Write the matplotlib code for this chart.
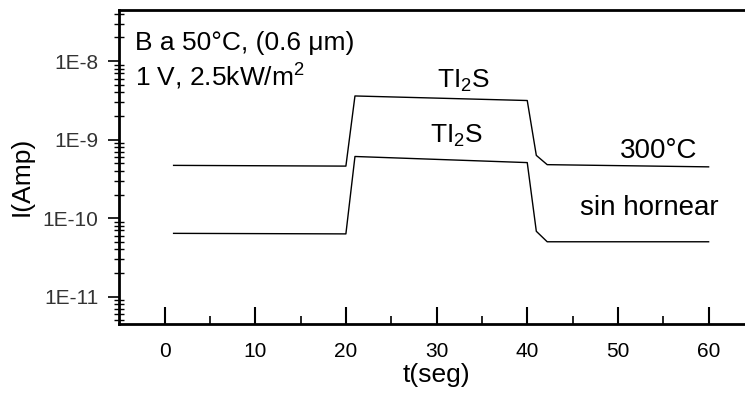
import numpy as np
import matplotlib
matplotlib.use("Agg")
import matplotlib.pyplot as plt
from matplotlib.ticker import LogLocator, FixedLocator, NullFormatter

plt.rcParams['font.family'] = ['Liberation Sans', 'DejaVu Sans']
plt.rcParams['mathtext.fontset'] = 'custom'
plt.rcParams['mathtext.rm'] = 'Liberation Sans'

# datos
t_300 = [1, 20, 21, 40, 41, 42.2, 60]
i_300 = [4.7e-10, 4.6e-10, 3.6e-9, 3.15e-9, 6.3e-10, 4.8e-10, 4.5e-10]

t_sin = [1, 20, 21, 40, 41, 42.2, 60]
i_sin = [6.4e-11, 6.3e-11, 6.1e-10, 5.1e-10, 6.8e-11, 5.0e-11, 5.0e-11]

x_ticks = [0, 10, 20, 30, 40, 50, 60]
y_ticks = [1e-11, 1e-10, 1e-9, 1e-8]
y_tick_labels = ['1E-11', '1E-10', '1E-9', '1E-8']

fig = plt.figure(figsize=(7.45, 3.94), dpi=100)
ax = fig.add_axes([0.16, 0.178, 0.852, 0.797])

ax.plot(t_300, i_300, color='black', lw=1.0)
ax.plot(t_sin, i_sin, color='black', lw=1.0)

ax.set_yscale('log')
ax.set_xlim(-5, 65)
ax.set_ylim(4.5e-12, 4.5e-8)

ax.set_xticks(x_ticks)
ax.xaxis.set_minor_locator(FixedLocator([5, 15, 25, 35, 45, 55]))
ax.set_yticks(y_ticks)
ax.set_yticklabels(y_tick_labels)
ax.yaxis.set_minor_locator(LogLocator(base=10, subs=np.arange(2, 10)))
ax.yaxis.set_minor_formatter(NullFormatter())

ax.tick_params(axis='x', which='major', direction='in', length=12, width=1.5, labelsize=15, pad=13)
ax.tick_params(axis='x', which='minor', direction='in', length=6, width=1.2)
ax.tick_params(axis='y', which='major', direction='out', length=8, width=1.2, labelsize=15, pad=7, labelcolor='#333333')
ax.tick_params(axis='y', which='minor', direction='inout', length=7, width=1.0)
ax.tick_params(top=False, right=False)

for s in ax.spines.values():
    s.set_linewidth(2)
ax.spines['right'].set_visible(False)

ax.set_xlabel('t(seg)', fontsize=19, va='top')
ax.xaxis.set_label_coords(0.50, -0.125)
ax.set_ylabel('I(Amp)', fontsize=19)
ax.yaxis.set_label_coords(-0.135, 0.47)

ax.text(0.025, 0.873, 'B a 50°C, (0.6 μm)', transform=ax.transAxes, fontsize=19, va='baseline')
ax.text(0.025, 0.761, '1 V, 2.5kW/m$^2$', transform=ax.transAxes, fontsize=19, va='baseline')

ax.text(30.1, 4.6e-9, 'TI$_2$S', fontsize=19, va='baseline')
ax.text(29.3, 9.2e-10, 'TI$_2$S', fontsize=19, va='baseline')
ax.text(50.2, 5.9e-10, '300°C', fontsize=20, va='baseline')
ax.text(45.8, 1.11e-10, 'sin hornear', fontsize=20, va='baseline')

plt.savefig('out.png', dpi=100)
